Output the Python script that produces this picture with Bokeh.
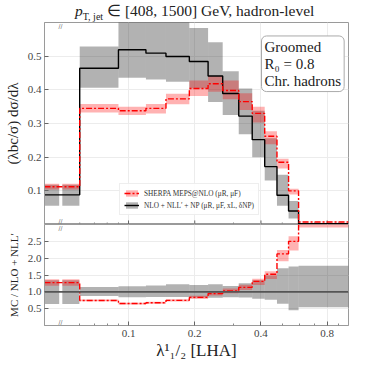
import numpy as np
from bokeh.plotting import figure
from bokeh.layouts import column
from bokeh.models import (Range1d, FixedTicker, Label, Legend, LegendItem, Span, Div,
                          PrintfTickFormatter)
from bokeh.embed import file_html
from bokeh.resources import INLINE

# ---------------- data ----------------
# bin edges of lambda^1_{1/2} (LHA)
edges = [0.06, 0.09, 0.12, 0.148, 0.189, 0.23, 0.268, 0.317, 0.365, 0.416, 0.473, 0.534, 0.593, 1.0]
# underflow bin [0, 0.06] shown in the broken-axis strip (two boxes)
uf_left = [0.0415, 0.0500]
uf_right = [0.0484, 0.0598]

# NLO + NLL' + NP
nlo = [0.464, 0.519, 0.509, 0.499, 0.484, 0.441, 0.389, 0.322, 0.252, 0.172, 0.087, 0.040, 0.0022]
nlo_lo = [0.406, 0.436, 0.431, 0.424, 0.404, 0.364, 0.325, 0.268, 0.200, 0.131, 0.056, 0.018, 0.0012]
nlo_hi = [0.529, 0.605, 0.603, 0.610, 0.584, 0.541, 0.455, 0.404, 0.338, 0.256, 0.148, 0.070, 0.0039]
nlo_uf, nlo_uf_lo, nlo_uf_hi = 0.088, 0.056, 0.118

# SHERPA MEPS@NLO
mc = [0.345, 0.338, 0.345, 0.373, 0.404, 0.418, 0.398, 0.365, 0.330, 0.262, 0.185, 0.100, 0.0075]
mc_lo = [0.333, 0.325, 0.330, 0.357, 0.382, 0.394, 0.372, 0.340, 0.303, 0.238, 0.166, 0.089, 0.0064]
mc_hi = [0.358, 0.350, 0.358, 0.388, 0.428, 0.441, 0.428, 0.390, 0.350, 0.277, 0.195, 0.106, 0.0085]
mc_uf, mc_uf_lo, mc_uf_hi = 0.112, 0.104, 0.121

x_ticks = [0.1, 0.2, 0.4, 0.8]
x_minor = [0.06, 0.07, 0.08, 0.09, 0.3, 0.5, 0.6, 0.7, 0.9]
y_ticks = [0.1, 0.2, 0.3, 0.4, 0.5]
r_ticks = [0.5, 1.0, 1.5, 2.0, 2.5]

# ---------------- styling ----------------
SERIF = "Liberation Serif"
FRAME = "#9a9a9a"
TICKLBL = "#444444"
GRID = "#ececec"
RED = "#ff0000"
DASH = "6 2 2 2"
X0, X1 = 0.0415, 1.0
FRAME_W = 304

def px_to_x(px):
    # horizontal pixel offset from the frame's left edge -> data x (log axis)
    return X0 * (X1 / X0) ** (px / FRAME_W)

left = np.array(edges[:-1]); right = np.array(edges[1:])
nlo_a = np.array(nlo); mc_a = np.array(mc)

xs = [uf_left[0]] + edges
def step_y(uf, vals):
    return [uf] + list(vals) + [vals[-1]]

def style_axis(ax):
    ax.axis_line_color = FRAME
    ax.major_tick_in = 4
    ax.major_tick_out = 0
    ax.minor_tick_in = 2
    ax.minor_tick_out = 0
    ax.major_tick_line_color = "#666666"
    ax.minor_tick_line_color = "#888888"
    ax.major_label_text_font = SERIF
    ax.major_label_text_font_size = "11px"
    ax.major_label_text_color = TICKLBL
    ax.axis_label_text_font = SERIF
    ax.axis_label_text_font_style = "normal"
    ax.axis_label_text_color = "#222222"

def style(p):
    p.outline_line_color = FRAME
    p.outline_line_width = 1
    for ax in list(p.xaxis) + list(p.yaxis):
        style_axis(ax)
    for ax in p.xaxis:
        ax.ticker = FixedTicker(ticks=x_ticks, minor_ticks=x_minor)
    p.xgrid.ticker = FixedTicker(ticks=x_ticks)
    p.xgrid.grid_line_color = GRID
    p.ygrid.grid_line_color = GRID

xr = Range1d(X0, X1)

# ---------------- title ----------------
title = Div(text='<div style="font-family:\'Liberation Serif\';font-size:15.5px;color:#222;'
                 'padding-left:75px;padding-top:2px;white-space:nowrap;line-height:18px">'
                 '<i>p</i><sub style="font-size:10px">T, jet</sub> ∈ [408, 1500] GeV, hadron-level</div>',
            width=358, height=21, margin=0)

# ---------------- main panel ----------------
main = figure(width=358, height=203, x_axis_type="log", x_axis_location=None,
              x_range=xr, y_range=Range1d(0, 0.6),
              output_backend="svg", toolbar_location=None,
              min_border_left=44, min_border_right=10, min_border_top=1, min_border_bottom=0)
style(main)
main.yaxis.ticker = FixedTicker(ticks=y_ticks)
main.yaxis.formatter = PrintfTickFormatter(format="%.1f")
main.yaxis.axis_label = "(λbc/σ) dσ/dλ"
main.yaxis.axis_label_text_font_size = "15px"
main.yaxis.axis_label_standoff = 4
main.yaxis.major_label_standoff = 3

# inward tick marks on the bottom edge of the upper panel
main.segment(x0=x_ticks, y0=[0] * len(x_ticks), x1=x_ticks, y1=[0.012] * len(x_ticks),
             line_color="#666666", line_width=1)
main.segment(x0=x_minor, y0=[0] * len(x_minor), x1=x_minor, y1=[0.006] * len(x_minor),
             line_color="#888888", line_width=1)

grey = main.quad(left=left, right=right, bottom=nlo_lo, top=nlo_hi,
                 fill_color="black", fill_alpha=0.3, line_color=None)
main.quad(left=uf_left, right=uf_right, bottom=[nlo_uf_lo] * 2, top=[nlo_uf_hi] * 2,
          fill_color="black", fill_alpha=0.3, line_color=None)
pink = main.quad(left=left, right=right, bottom=mc_lo, top=mc_hi,
                 fill_color=RED, fill_alpha=0.3, line_color=None)
main.quad(left=uf_left, right=uf_right, bottom=[mc_uf_lo] * 2, top=[mc_uf_hi] * 2,
          fill_color=RED, fill_alpha=0.3, line_color=None)
blk = main.step(xs, step_y(nlo_uf, nlo), mode="after", line_color="black", line_width=1.4)
red = main.step(xs, step_y(mc_uf, mc), mode="after", line_color=RED, line_width=1.4,
                line_dash=DASH)

legend = Legend(items=[
    LegendItem(label="SHERPA MEPS@NLO (μR, μF)", renderers=[pink, red]),
    LegendItem(label="NLO + NLL′ + NP (μR, μF, xL, δNP)", renderers=[grey, blk]),
], location=(75, 9))
legend.label_text_font = SERIF
legend.label_text_font_size = "7.3px"
legend.label_text_color = "#333333"
legend.label_height = 10
legend.glyph_height = 8
legend.glyph_width = 15
legend.label_standoff = 5
legend.spacing = 2
legend.padding = 4
legend.margin = 0
legend.border_line_color = "#dddddd"
legend.background_fill_alpha = 0.9
main.add_layout(legend)

main.add_layout(Label(x=px_to_x(217), y=0.560, text="Groomed\nR₀ = 0.8\nChr. hadrons",
                      text_font=SERIF, text_font_size="15px", text_align="left",
                      text_baseline="top", text_color="#222222", text_line_height=1.05,
                      border_line_color="#aaaaaa", background_fill_color="white",
                      padding=3, border_radius=5))

main.add_layout(Label(x=0.0491, y=0.6, text="//", text_font_size="7px", text_color="#777777",
                      text_align="center", text_baseline="top"))
main.add_layout(Label(x=0.0491, y=0.0, text="//", text_font_size="7px", text_color="#777777",
                      text_align="center", text_baseline="bottom"))

# ---------------- ratio panel ----------------
ratio = figure(width=358, height=140, x_axis_type="log", x_range=xr, y_range=Range1d(0, 3.0),
               output_backend="svg", toolbar_location=None,
               min_border_left=44, min_border_right=10, min_border_top=0, min_border_bottom=39)
style(ratio)
ratio.yaxis.ticker = FixedTicker(ticks=r_ticks)
ratio.yaxis.formatter = PrintfTickFormatter(format="%.1f")
ratio.yaxis.axis_label = "MC / NLO + NLL′"
ratio.yaxis.axis_label_text_font_size = "11px"
ratio.yaxis.axis_label_standoff = 5
ratio.yaxis.major_label_standoff = 3
ratio.xaxis.axis_label = "λ¹₁/₂ [LHA]"
ratio.xaxis.axis_label_text_font_size = "17px"
ratio.xaxis.axis_label_standoff = 1
ratio.xaxis.major_label_standoff = 4

ratio.quad(left=left, right=right, bottom=np.array(nlo_lo) / nlo_a, top=np.array(nlo_hi) / nlo_a,
           fill_color="black", fill_alpha=0.3, line_color=None)
ratio.quad(left=uf_left, right=uf_right, bottom=[nlo_uf_lo / nlo_uf] * 2, top=[nlo_uf_hi / nlo_uf] * 2,
           fill_color="black", fill_alpha=0.3, line_color=None)
ratio.quad(left=left, right=right, bottom=np.array(mc_lo) / nlo_a, top=np.array(mc_hi) / nlo_a,
           fill_color=RED, fill_alpha=0.3, line_color=None)
ratio.quad(left=uf_left, right=uf_right, bottom=[mc_uf_lo / nlo_uf] * 2, top=[mc_uf_hi / nlo_uf] * 2,
           fill_color=RED, fill_alpha=0.3, line_color=None)
ratio.add_layout(Span(location=1.0, dimension="width", line_color="#555555", line_width=1.6))
ratio.step(xs, step_y(mc_uf / nlo_uf, mc_a / nlo_a), mode="after", line_color=RED, line_width=1.4,
           line_dash=DASH)
ratio.add_layout(Label(x=0.0491, y=3.0, text="//", text_font_size="7px", text_color="#777777",
                       text_align="center", text_baseline="top"))
ratio.add_layout(Label(x=0.0491, y=0.0, text="//", text_font_size="7px", text_color="#777777",
                       text_align="center", text_baseline="bottom"))

layout = column(title, main, ratio, spacing=0)
open("out.html", "w").write(file_html(layout, INLINE))
